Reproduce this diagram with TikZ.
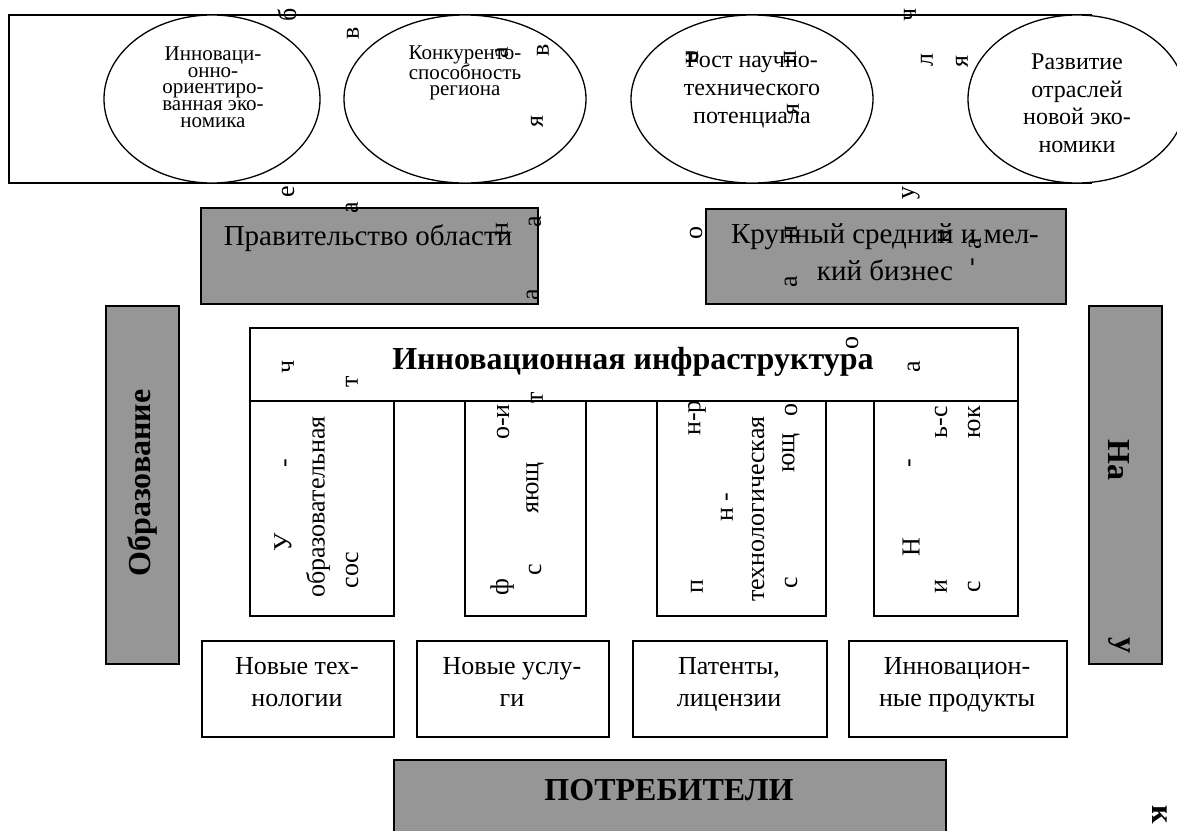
\documentclass[tikz,border=0pt]{standalone}
\usepackage{fontspec}
\setmainfont{Liberation Serif}
\usetikzlibrary{shapes.geometric}
\definecolor{boxgray}{RGB}{150,150,150}
\newcommand\fsz[2]{\fontsize{#1pt}{#2pt}\selectfont}
\begin{document}
\begin{tikzpicture}[x=1pt,y=-1pt,
  ov/.style={ellipse,draw=black,line width=1.3pt,fill=white,inner sep=0pt},
  graybox/.style={draw=black,line width=1.6pt,fill=boxgray,inner sep=0pt,anchor=north west},
  whitebox/.style={draw=black,line width=1.5pt,fill=white,inner sep=0pt,anchor=north west},
  txt/.style={inner sep=0pt,align=center},
  ovsmall/.style={txt,font=\fsz{21}{16.7}},
  ovbig/.style={txt,font=\fsz{24}{28}},
  bodytxt/.style={txt,font=\fsz{29}{36.5}},
  bottxt/.style={txt,font=\fsz{26}{32}},
  boldtxt/.style={txt,font=\fsz{32}{36}\bfseries},
  vtxt/.style={inner sep=0pt,rotate=90,font=\fsz{26}{31}},
  stray/.style={inner sep=0pt,rotate=90,font=\fsz{26}{26}},
  vbold/.style={inner sep=0pt,rotate=-90,font=\fsz{32}{32}\bfseries},
]
\useasboundingbox (0,0) rectangle (1177,830);

% top frame with ellipses
\node[draw=black,line width=1.8pt,inner sep=0pt,anchor=north west,minimum width=1082pt,minimum height=168pt] (frame) at (8,14) {};
\node[ov,minimum width=216pt,minimum height=168pt] (e1) at (212,99) {};
\node[ov,minimum width=242pt,minimum height=168pt] (e2) at (465,99) {};
\node[ov,minimum width=242pt,minimum height=168pt] (e3) at (752,99) {};
\node[ov,minimum width=218pt,minimum height=168pt] (e4) at (1077,99) {};
\node[ovsmall] (e1t) at (213,87) {Инноваци-\\онно-\\ориентиро-\\ванная эко-\\номика};
\node[ovsmall,font=\fsz{21}{15.8}] (e2t) at (465,72.6) {Конкуренто-\\способность\\региона};
\node[ovbig] (e3t) at (752,90) {Рост научно-\\технического\\потенциала};
\node[ovbig,font=\fsz{24}{27.7}] (e4t) at (1077,103.4) {Развитие\\отраслей\\новой эко-\\номики};

% gray boxes
\node[graybox,minimum width=337pt,minimum height=96pt] (gov) at (200,207) {};
\node[bodytxt,anchor=base] (govt) at (368,245) {Правительство области};
\node[graybox,minimum width=360pt,minimum height=95pt] (biz) at (705,208) {};
\node[bodytxt] (bizt) at (885,252.4) {Крупный средний и мел-\\кий бизнес};
\node[graybox,minimum width=73pt,minimum height=358pt] (edu) at (105,305) {};
\node[inner sep=0pt,rotate=90,font=\fsz{32}{32}\bfseries] (edut) at (142,483) {Образование};
\node[graybox,minimum width=73pt,minimum height=358pt] (sci) at (1088,305) {};
\node[vbold] (scit1) at (1119,460) {На};
\node[vbold] (scit2) at (1119,645) {у};
\node[vbold] (scit3) at (1160,815) {к};
\node[graybox,minimum width=552pt,minimum height=80pt] (cons) at (393,759) {};
\node[boldtxt,anchor=base] (const) at (669,800) {ПОТРЕБИТЕЛИ};

% innovation infrastructure
\node[whitebox,minimum width=768pt,minimum height=73pt] (infra) at (249,327) {};
\node[boldtxt,anchor=base] (infrat) at (633,369) {Инновационная инфраструктура};
\node[whitebox,minimum width=144pt,minimum height=215pt] (c1) at (249,400) {};
\node[whitebox,minimum width=121pt,minimum height=215pt] (c2) at (464,400) {};
\node[whitebox,minimum width=169pt,minimum height=215pt] (c3) at (656,400) {};
\node[whitebox,minimum width=144pt,minimum height=215pt] (c4) at (873,400) {};

% column fragments
\node[vtxt] (c1a) at (283,542) {У};
\node[vtxt] (c1b) at (288,463) {-};
\node[vtxt] (c1c) at (318,507) {образовательная};
\node[vtxt] (c1d) at (352,570) {сос};
\node[vtxt] (c2a) at (503,422) {о-и};
\node[vtxt] (c2b) at (535,488) {яющ};
\node[vtxt] (c2c) at (502,587) {ф};
\node[vtxt] (c2d) at (535,570) {с};
\node[vtxt] (c3a) at (697,418) {н-р};
\node[vtxt] (c3b) at (727,507) {н -};
\node[vtxt] (c3c) at (758,509) {технологическая};
\node[vtxt] (c3d) at (791,453) {ющ};
\node[vtxt] (c3e) at (791,410) {о};
\node[vtxt] (c3f) at (697,587) {п};
\node[vtxt] (c3g) at (791,583) {с};
\node[vtxt] (c4a) at (941,422) {ь-с};
\node[vtxt] (c4b) at (974,422) {юк};
\node[vtxt] (c4c) at (912,463) {-};
\node[vtxt] (c4d) at (911,547) {Н};
\node[vtxt] (c4e) at (941,587) {и};
\node[vtxt] (c4f) at (974,587) {с};

% bottom result boxes
\node[whitebox,minimum width=192pt,minimum height=96pt] (r1) at (201,640) {};
\node[whitebox,minimum width=192pt,minimum height=96pt] (r2) at (416,640) {};
\node[whitebox,minimum width=194pt,minimum height=96pt] (r3) at (632,640) {};
\node[whitebox,minimum width=218pt,minimum height=96pt] (r4) at (848,640) {};
\node[bottxt] (r1t) at (297,682.2) {Новые тех-\\нологии};
\node[bottxt] (r2t) at (512,682.2) {Новые услу-\\ги};
\node[bottxt] (r3t) at (729,684) {Патенты,\\лицензии};
\node[bottxt] (r4t) at (957,685) {Инновацион-\\ные продукты};

% stray rotated letters
\node[stray] (s1) at (287,15) {б};
\node[stray] (s2) at (353,33) {в};
\node[stray] (s3) at (502,53) {а};
\node[stray] (s4) at (543,50) {в};
\node[stray] (s5) at (537,122) {я};
\node[stray] (s6) at (288,192) {е};
\node[stray] (s7) at (692,58) {н};
\node[stray] (s8) at (790,58) {п};
\node[stray] (s9) at (793,110) {я};
\node[stray] (s10) at (910,15) {ч};
\node[stray] (s11) at (927,60) {л};
\node[stray] (s12) at (962,62) {я};
\node[stray] (s13) at (911,193) {у};
\node[stray] (s14) at (352,208) {а};
\node[stray] (s15) at (502,230) {н};
\node[stray] (s16) at (535,222) {а};
\node[stray] (s17) at (533,295) {а};
\node[stray] (s18) at (696,233) {о};
\node[stray] (s19) at (791,233) {п};
\node[stray] (s20) at (944,237) {н};
\node[stray] (s21) at (975,244) {а};
\node[stray] (s22) at (975,262) {-};
\node[stray] (s23) at (791,282) {а};
\node[stray] (s24) at (288,367) {ч};
\node[stray] (s25) at (352,382) {т};
\node[stray] (s26) at (537,398) {т};
\node[stray] (s27) at (852,343) {о};
\node[stray] (s28) at (914,367) {а};
\end{tikzpicture}
\end{document}
